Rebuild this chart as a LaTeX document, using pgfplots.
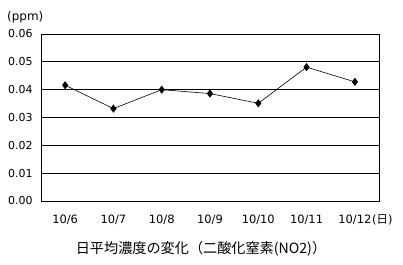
\documentclass[border=0pt]{standalone}
\usepackage{fontspec}
\setmainfont{Noto Sans CJK JP}
\newfontfamily\djv{DejaVu Sans}
\usepackage{pgfplots}
\pgfplotsset{compat=1.18}
\begin{document}
\begin{tikzpicture}[x=1bp,y=1bp]
\useasboundingbox (0,0) rectangle (403,265);
\coordinate (A) at (41,64);
\begin{axis}[
  at={(A)}, anchor=south west,
  scale only axis, width=338bp, height=167bp,
  xmin=-0.5, xmax=6.5, ymin=0, ymax=0.06,
  ytick={0,0.01,...,0.06},
  xtick={0,...,6},
  xticklabels={10/6,10/7,10/8,10/9,10/10,10/11,10/12},
  major x tick style={draw=none},
  extra x ticks={0.5,1.5,2.5,3.5,4.5,5.5},
  extra x tick labels={},
  extra x tick style={major tick length=4bp, tick align=inside, tick style={black, line width=0.8bp}, grid=none},
  ymajorgrids, grid style={black, line width=0.8bp},
  major y tick style={draw=none},
  axis line style={black, line width=0.8bp},
  yticklabel style={/pgf/number format/fixed, /pgf/number format/precision=2, /pgf/number format/fixed zerofill},
  /pgf/number format/assume math mode=true,
  scaled y ticks=false,
  tick label style={font=\djv\fontsize{11}{13}\selectfont},
  xticklabel style={font=\djv\fontsize{11.5}{13}\selectfont},
  yticklabel style={xshift=-5bp},
  xticklabel style={yshift=-10bp},
  clip=false,
]
\addplot[black, line width=0.6bp, mark=diamond*, mark size=3.6bp, mark options={fill=black}] coordinates {
(0,0.0416) (1,0.0332) (2,0.0400) (3,0.0386) (4,0.0351) (5,0.0481) (6,0.0428)
};
\end{axis}
\node[anchor=west, font=\fontsize{11.5}{13}\selectfont, inner sep=0] at (372,45) {{\djv (}日{\djv )}};
\node[anchor=west, font=\djv\fontsize{12}{14}\selectfont, inner sep=0] at (7,248) {(ppm)};
\node[font=\fontsize{14.2}{16}\selectfont, inner sep=0] at (201,16) {日平均濃度の変化（二酸化窒素(NO2)）};
\end{tikzpicture}
\end{document}
